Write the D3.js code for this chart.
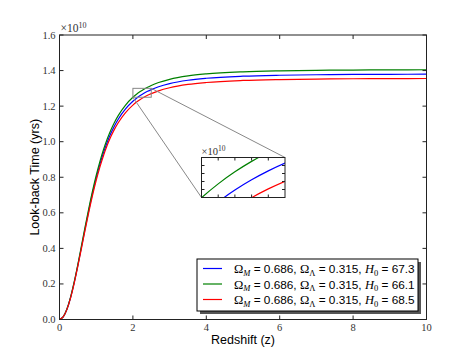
<!DOCTYPE html>
<html><head><meta charset="utf-8">
<script src="https://cdn.jsdelivr.net/npm/d3@7"></script>
<style>body{margin:0;background:#fff}svg{display:block}</style>
</head><body><svg id="c" width="474" height="355"></svg>
<script>
// Redshift sample points
const redshift = [0,0.1,0.2,0.3,0.4,0.5,0.6,0.7,0.8,0.9,1.0,1.1,1.2,1.3,1.4,1.5,1.6,1.8,2.0,2.1,2.2,2.3,2.4,2.5,2.7,3.0,3.5,4,5,6,7,8,9,10];
// Look-back time in units of 1e10 yrs
const lbBlue  = [0,0.01442,0.05641,0.12247,0.20739,0.30503,0.40916,0.51417,0.61555,0.71011,0.79594,0.87228,0.93915,0.99711,1.04702,1.08980,1.12641,1.18458,1.22740,1.24448,1.25926,1.27207,1.28324,1.29299,1.30905,1.32675,1.34554,1.35669,1.36829,1.37364,1.37643,1.37801,1.37898,1.37961];
const lbGreen = [0,0.01468,0.05743,0.12469,0.21115,0.31056,0.41658,0.52349,0.62671,0.72298,0.81037,0.88809,0.95617,1.01519,1.06600,1.10956,1.14683,1.20605,1.24965,1.26704,1.28209,1.29514,1.30651,1.31643,1.33278,1.35081,1.36993,1.38129,1.39310,1.39854,1.40138,1.40299,1.40398,1.40462];
const lbRed   = [0,0.01417,0.05542,0.12032,0.20376,0.29968,0.40199,0.50516,0.60476,0.69766,0.78199,0.85699,0.92268,0.97963,1.02867,1.07069,1.10667,1.16381,1.20588,1.22266,1.23718,1.24979,1.26075,1.27033,1.28610,1.30350,1.32195,1.33291,1.34430,1.34955,1.35230,1.35385,1.35481,1.35543];
const seriesNames = ["blue","green","red"];
const omegaM = ["0.686","0.686","0.686"];
const omegaL = ["0.315","0.315","0.315"];
const hubble = ["67.3","66.1","68.5"];
const xTicks = [0,2,4,6,8,10];
const yTicks = [0,0.2,0.4,0.6,0.8,1.0,1.2,1.4,1.6];
const insetX = [2.0,2.5];
const insetY = [1.25,1.30];
const insetXTicks = [2.1,2.2,2.3,2.4];
const insetYTicks = [1.26,1.27,1.28,1.29];

const colors = {blue:"#0000ff", green:"#008000", red:"#ff0000"};
const values = {blue:lbBlue, green:lbGreen, red:lbRed};

const svg = d3.select("#c");
const L=59.5, R=426.5, T=35, B=319.5;
const x = d3.scaleLinear().domain([0,10]).range([L,R]);
const y = d3.scaleLinear().domain([0,1.6]).range([B,T]);
const serif = "'Liberation Serif','DejaVu Serif',serif";
const sans = "'Liberation Sans',Arial,sans-serif";

svg.append("clipPath").attr("id","mainclip").append("rect").attr("x",L).attr("y",T).attr("width",R-L).attr("height",B-T);

const line = (xs,ys)=>d3.line().x((d,i)=>xs(redshift[i])).y(d=>ys(d)).curve(d3.curveMonotoneX);

const gMain = svg.append("g").attr("clip-path","url(#mainclip)");
seriesNames.forEach(s=>{
  gMain.append("path").attr("d",line(x,y)(values[s])).attr("fill","none").attr("stroke",colors[s]).attr("stroke-width",1.2);
});

svg.append("rect").attr("x",L).attr("y",T).attr("width",R-L).attr("height",B-T).attr("fill","none").attr("stroke","#222").attr("stroke-width",1);

const tl=4;
xTicks.forEach(t=>{
  svg.append("line").attr("x1",x(t)).attr("x2",x(t)).attr("y1",B).attr("y2",B-tl).attr("stroke","#222");
  svg.append("line").attr("x1",x(t)).attr("x2",x(t)).attr("y1",T).attr("y2",T+tl).attr("stroke","#222");
  svg.append("text").attr("x",x(t)).attr("y",B+11).attr("text-anchor","middle").attr("font-family",serif).attr("font-size",10.5).attr("fill","#333").text(t);
});
yTicks.forEach(t=>{
  svg.append("line").attr("x1",L).attr("x2",L+tl).attr("y1",y(t)).attr("y2",y(t)).attr("stroke","#222");
  svg.append("line").attr("x1",R).attr("x2",R-tl).attr("y1",y(t)).attr("y2",y(t)).attr("stroke","#222");
  svg.append("text").attr("x",L-4).attr("y",y(t)+3.5).attr("text-anchor","end").attr("font-family",serif).attr("font-size",10.5).attr("fill","#333").text(t.toFixed(1));
});
const off = svg.append("text").attr("x",L+1).attr("y",T-3).attr("font-family",serif).attr("font-size",11.5).attr("fill","#333");
off.append("tspan").text("×10");
off.append("tspan").attr("dy",-4.5).attr("font-size",8).text("10");

svg.append("text").attr("x",(L+R)/2).attr("y",344).attr("text-anchor","middle").attr("font-family",sans).attr("font-size",12.5).attr("fill","#000").text("Redshift (z)");
svg.append("text").attr("transform",`translate(39,${(T+B)/2}) rotate(-90)`).attr("text-anchor","middle").attr("font-family",sans).attr("font-size",12.5).attr("fill","#000").text("Look-back Time (yrs)");

const bx0=x(insetX[0]), bx1=x(insetX[1]), by0=y(insetY[1]), by1=y(insetY[0]);
svg.append("rect").attr("x",bx0).attr("y",by0).attr("width",bx1-bx0).attr("height",by1-by0).attr("fill","none").attr("stroke","#888").attr("stroke-width",1);

const iL=201.5, iR=285, iT=157.5, iB=197.5;
const xi = d3.scaleLinear().domain(insetX).range([iL,iR]);
const yi = d3.scaleLinear().domain(insetY).range([iB,iT]);
svg.append("line").attr("x1",bx0).attr("y1",by1).attr("x2",iL).attr("y2",iB).attr("stroke","#888");
svg.append("line").attr("x1",bx1).attr("y1",by0).attr("x2",iR).attr("y2",iT).attr("stroke","#888");

svg.append("rect").attr("x",iL).attr("y",iT).attr("width",iR-iL).attr("height",iB-iT).attr("fill","#fff");
svg.append("clipPath").attr("id","insclip").append("rect").attr("x",iL).attr("y",iT).attr("width",iR-iL).attr("height",iB-iT);
const gIn = svg.append("g").attr("clip-path","url(#insclip)");
seriesNames.forEach(s=>{
  gIn.append("path").attr("d",line(xi,yi)(values[s])).attr("fill","none").attr("stroke",colors[s]).attr("stroke-width",1.2);
});
svg.append("rect").attr("x",iL).attr("y",iT).attr("width",iR-iL).attr("height",iB-iT).attr("fill","none").attr("stroke","#222");
const itl=3;
insetXTicks.forEach(t=>{
  svg.append("line").attr("x1",xi(t)).attr("x2",xi(t)).attr("y1",iB).attr("y2",iB-itl).attr("stroke","#222");
  svg.append("line").attr("x1",xi(t)).attr("x2",xi(t)).attr("y1",iT).attr("y2",iT+itl).attr("stroke","#222");
});
insetYTicks.forEach(t=>{
  svg.append("line").attr("x1",iL).attr("x2",iL+itl).attr("y1",yi(t)).attr("y2",yi(t)).attr("stroke","#222");
  svg.append("line").attr("x1",iR).attr("x2",iR-itl).attr("y1",yi(t)).attr("y2",yi(t)).attr("stroke","#222");
});
const ioff = svg.append("text").attr("x",iL).attr("y",iT-3).attr("font-family",serif).attr("font-size",10.5).attr("fill","#333");
ioff.append("tspan").text("×10");
ioff.append("tspan").attr("dy",-4).attr("font-size",7.5).text("10");

const lgX=197, lgY=259, lgW=221, lgH=52;
svg.append("rect").attr("x",lgX+3).attr("y",lgY+3).attr("width",lgW).attr("height",lgH).attr("fill","#555");
svg.append("rect").attr("x",lgX).attr("y",lgY).attr("width",lgW).attr("height",lgH).attr("fill","#fff").attr("stroke","#000").attr("stroke-width",1);
seriesNames.forEach((s,i)=>{
  const yy = lgY+9.5+i*15.5;
  svg.append("line").attr("x1",203).attr("x2",222).attr("y1",yy).attr("y2",yy).attr("stroke",colors[s]).attr("stroke-width",1.2);
  const t = svg.append("text").attr("x",234).attr("y",yy+4.5).attr("font-family",sans).attr("font-size",11.8).attr("fill","#000");
  t.append("tspan").attr("font-family",serif).attr("font-size",12.5).text("Ω");
  t.append("tspan").attr("font-family",serif).attr("font-style","italic").attr("font-size",8.5).attr("dy",2.5).text("M");
  t.append("tspan").attr("dy",-2.5).text(" = "+omegaM[i]+", ");
  t.append("tspan").attr("font-family",serif).attr("font-size",12.5).text("Ω");
  t.append("tspan").attr("font-family",serif).attr("font-size",8.5).attr("dy",2.5).text("Λ");
  t.append("tspan").attr("dy",-2.5).text(" = "+omegaL[i]+", ");
  t.append("tspan").attr("font-family",serif).attr("font-style","italic").attr("font-size",12.5).text("H");
  t.append("tspan").attr("font-family",serif).attr("font-size",8.5).attr("dy",2.5).text("0");
  t.append("tspan").attr("dy",-2.5).text(" = "+hubble[i]);
});
</script></body></html>
